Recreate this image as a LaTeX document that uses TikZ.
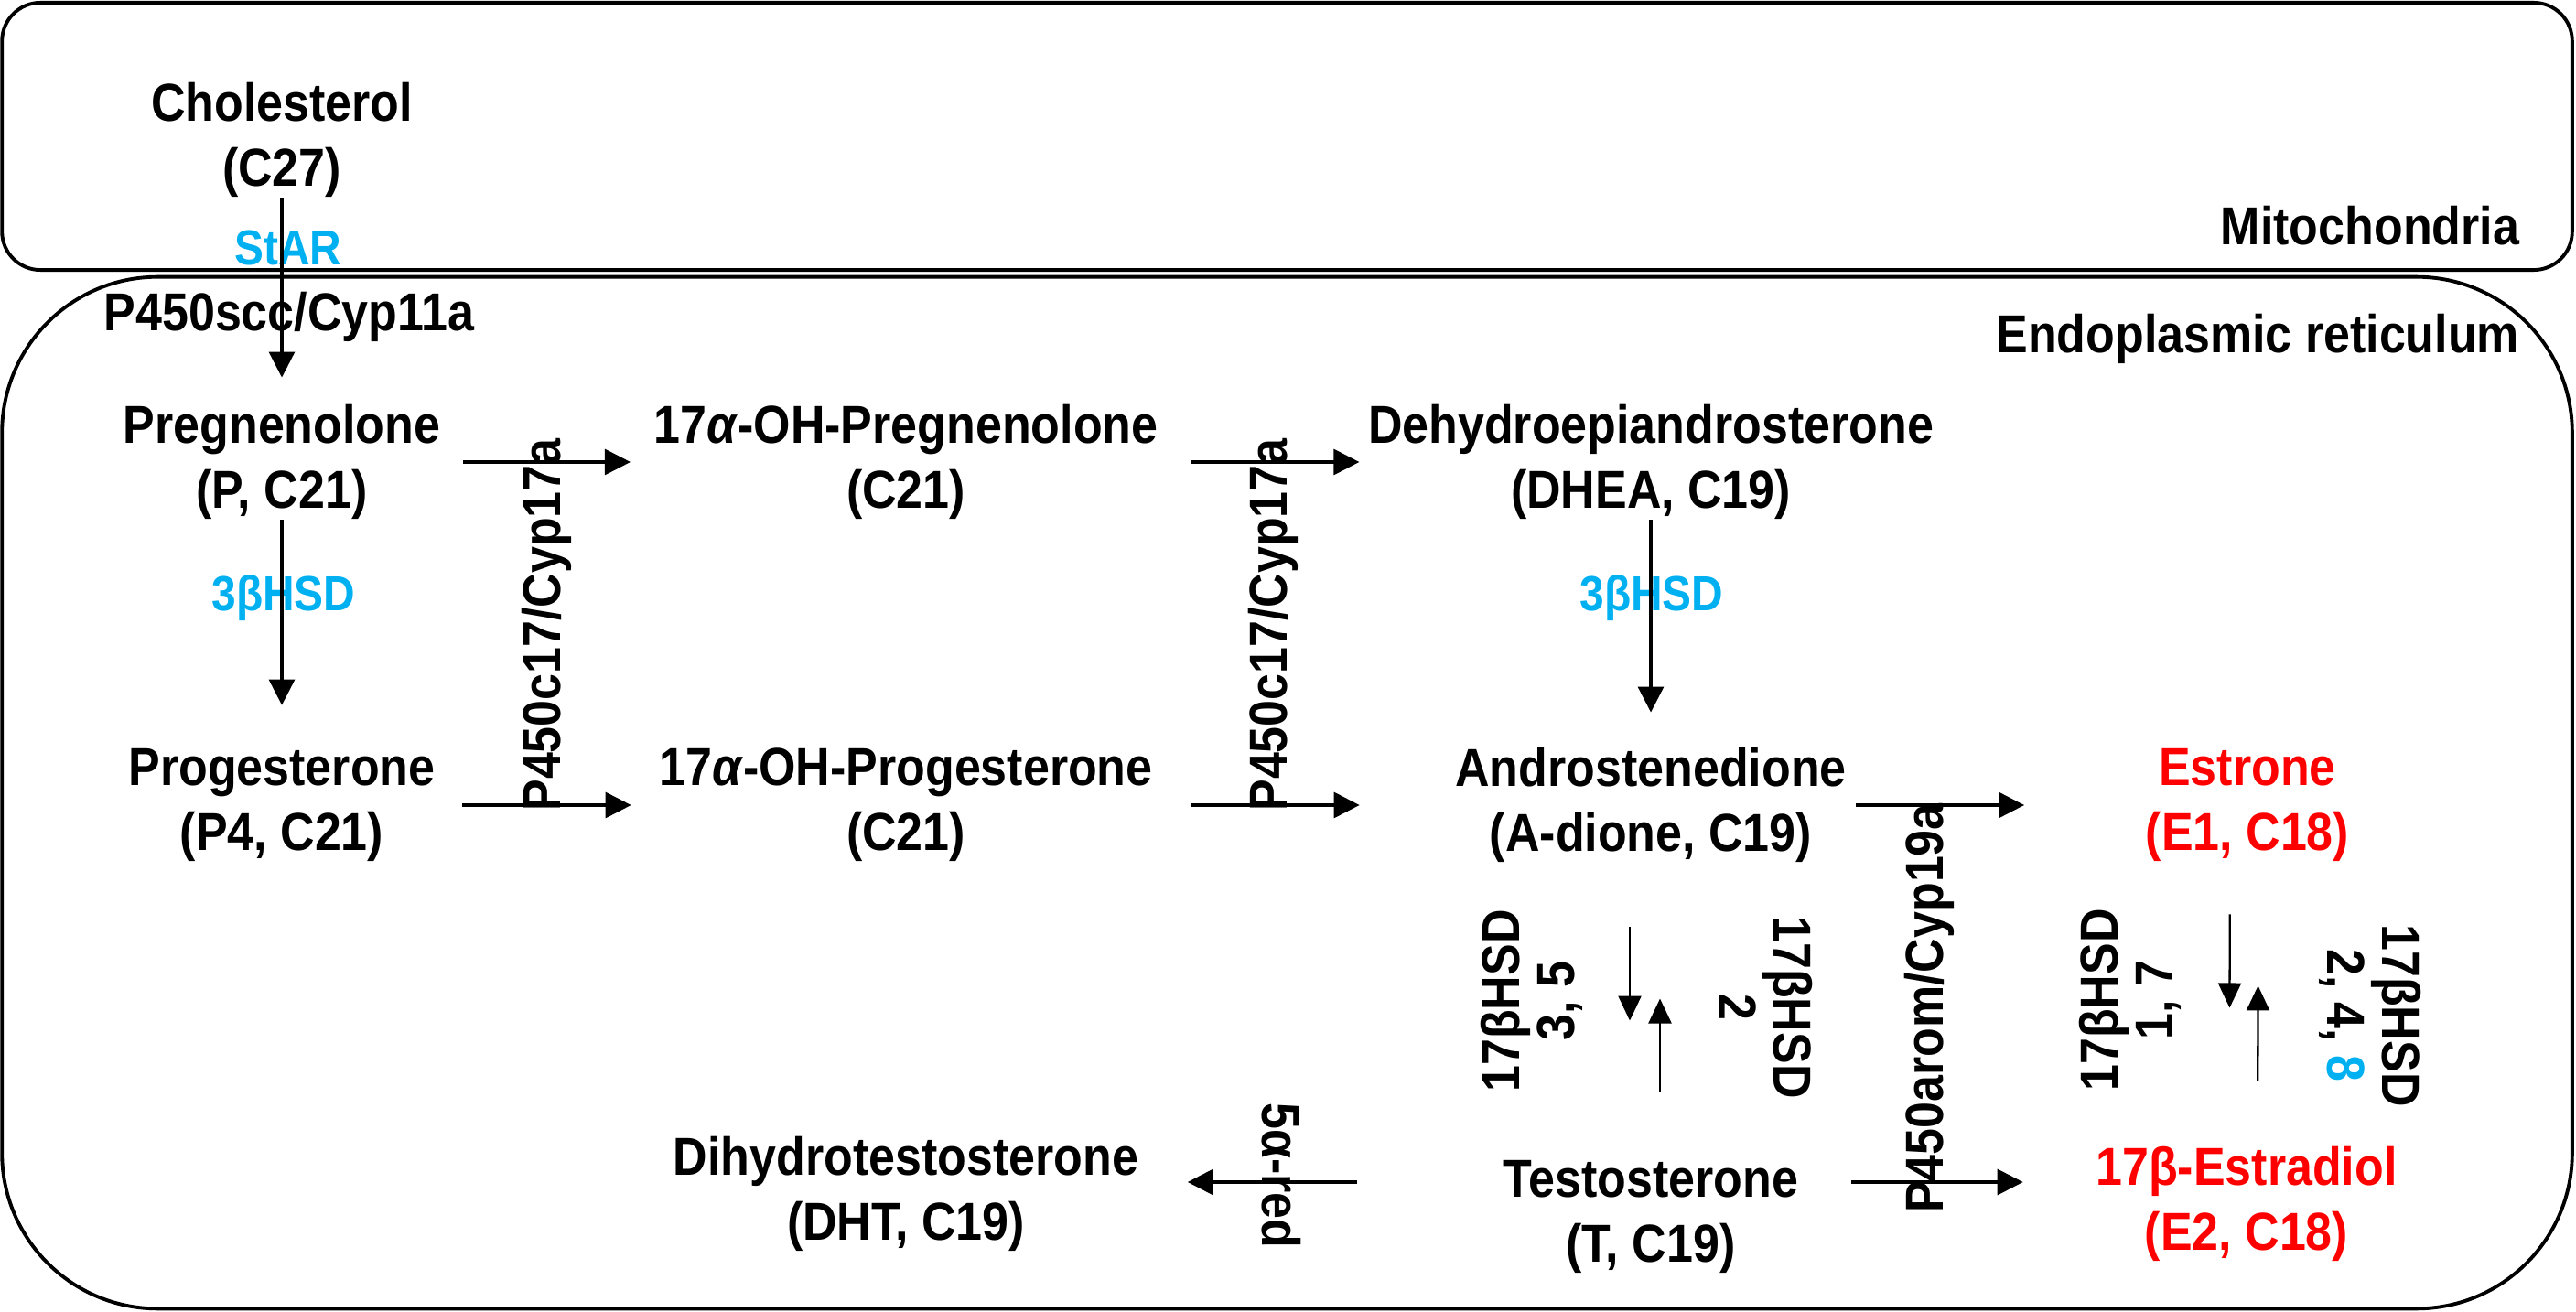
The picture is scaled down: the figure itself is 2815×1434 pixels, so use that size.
\documentclass[tikz,border=0pt]{standalone}
\usepackage{fontspec}
\setmainfont{Liberation Sans}
\newfontfamily\molfont[FakeStretch=0.89]{Liberation Sans}
\usetikzlibrary{arrows.meta,positioning}
\definecolor{hsdblue}{RGB}{0,176,240}
\definecolor{estred}{RGB}{255,0,0}

\begin{document}
\begin{tikzpicture}
  [x=0.01cm,y=-0.01cm,
   mol/.style={align=center, inner sep=0pt, font=\molfont\bfseries\fontsize{16.6}{20.2}\selectfont},
   enz/.style={align=center, inner sep=0pt, font=\molfont\bfseries\fontsize{16.6}{17}\selectfont},
   hsd/.style={inner sep=0pt, text=hsdblue, font=\molfont\bfseries\fontsize{15.3}{17}\selectfont},
   arr/.style={-{Triangle[length=0.28cm,width=0.28cm]}, line width=0.9pt},
   pair/.style={-{Triangle[length=0.27cm,width=0.25cm]}, line width=0.65pt},
   comp/.style={draw, line width=1.1pt, minimum width=28.07cm}]
  \useasboundingbox (0,0) rectangle (2815,1434);

  \node[comp, rounded corners=0.42cm, minimum height=2.92cm] (mito) at (1406.5,149) {};
  \node[comp, rounded corners=1.7cm, minimum height=11.27cm] (er) at (1406.5,866.5) {};
  \node[mol, anchor=east] (mitolbl) at ([xshift=-0.59cm,yshift=0.50cm]mito.south east) {Mitochondria};
  \node[mol, anchor=east] (erlbl) at ([xshift=-0.59cm,yshift=-0.70cm]er.north east) {Endoplasmic reticulum};

  \node[mol] (chol) at (308,153) {Cholesterol\\(C27)};
  \node[mol] (preg) at (308,505) {Pregnenolone\\(P, C21)};
  \node[mol] (ohpreg) at (990,505) {17\textit{α}-OH-Pregnenolone\\(C21)};
  \node[mol] (dhea) at (1804,505) {Dehydroepiandrosterone\\(DHEA, C19)};
  \node[mol] (prog) at (308,880) {Progesterone\\(P4, C21)};
  \node[mol] (ohprog) at (990,880) {17\textit{α}-OH-Progesterone\\(C21)};
  \node[mol] (adione) at (1804,880) {Androstenedione\\(A-dione, C19)};
  \node[mol, text=estred] (estrone) at (2456,880) {Estrone\\(E1, C18)};
  \node[mol] (dht) at (990,1305) {Dihydrotestosterone\\(DHT, C19)};
  \node[mol] (testo) at (1804,1330) {Testosterone\\(T, C19)};
  \node[mol, text=estred] (estradiol) at (2455,1316) {17β-Estradiol\\(E2, C18)};
  \coordinate (lane) at (0,1292);

  \node[hsd] (star) at (315,271) {StAR};
  \node[enz] (scc) at (316,346) {P450scc/Cyp11a};
  \node[hsd] (hsdpp) at (310,654) {3βHSD};
  \node[hsd] (hsdda) at (1805,654) {3βHSD};
  \node[enz, rotate=90] (cypa) at (597,683) {P450c17/Cyp17a};
  \node[enz, rotate=90] (cypb) at (1391,683) {P450c17/Cyp17a};
  \node[enz, rotate=90] (arom) at (2108,1102) {P450arom/Cyp19a};
  \node[enz, rotate=-90] (fivered) at (1400,1285) {5α-red};
  \node[enz, rotate=90] (hsdta) at (1674,1094) {17βHSD\\3, 5};
  \node[enz, rotate=-90] (hsdat) at (1930,1101) {17βHSD\\2};
  \node[enz, rotate=90] (hsdee) at (2328,1093) {17βHSD\\1, 7};
  \node[enz, rotate=-90] (hsdeo) at (2590,1110) {17βHSD\\2, 4, \textcolor{hsdblue}{8}};

  \draw[arr, shorten >=0.29cm] (chol) -- (preg);
  \draw[arr, shorten >=0.47cm] (preg) -- (prog);
  \draw[arr, shorten >=0.38cm] (dhea) -- (adione);

  \foreach \from/\to/\sa/\sb in {preg/ohpreg/0.24/0.25, ohpreg/dhea/0.36/0.09, prog/ohprog/0.29/0.30, ohprog/adione/0.41/1.04, adione/estrone/0.10/1.32}
    \draw[arr, shorten <=\sa cm, shorten >=\sb cm] (\from) -- (\to);

  \draw[arr, shorten <=0.57cm, shorten >=0.79cm] (testo.east |- lane) -- (estradiol.west |- lane);
  \draw[arr, shorten <=1.59cm, shorten >=0.53cm] (testo.west |- lane) -- (dht.east |- lane);

  \draw[pair, shorten <=0.70cm, shorten >=1.52cm] ([xshift=-0.23cm]adione.south) -- ([xshift=-0.23cm]testo.north);
  \draw[pair, shorten <=0.74cm, shorten >=1.48cm] ([xshift=0.10cm]testo.north) -- ([xshift=0.10cm]adione.south);
  \draw[pair, shorten <=0.57cm, shorten >=1.51cm] ([xshift=-0.19cm]estrone.south) -- ([xshift=-0.19cm]estradiol.north);
  \draw[pair, shorten <=0.71cm, shorten >=1.35cm] ([xshift=0.12cm]estradiol.north) -- ([xshift=0.12cm]estrone.south);
\end{tikzpicture}
\end{document}
